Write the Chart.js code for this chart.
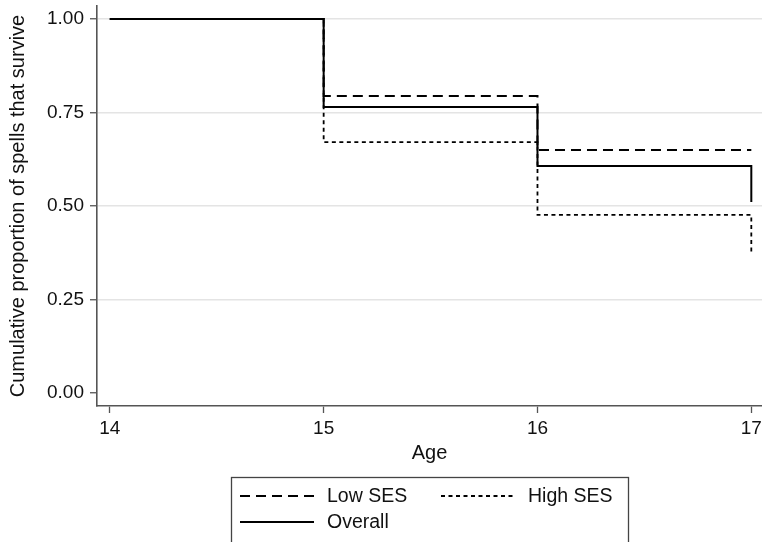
<!DOCTYPE html>
<html>
<head>
<meta charset="utf-8">
<script src="https://cdn.jsdelivr.net/npm/chart.js@4"></script>
<style>
  body { margin: 0; background: #fff; }
  #wrap { width: 762px; height: 542px; position: relative; }
</style>
</head>
<body>
<div id="wrap"><canvas id="myChart"></canvas></div>
<script>
'use strict';

// survival estimates at each age
var ages = [14, 15, 16, 17];
var lowSes = [1.00, 0.794, 0.650, 0.650];
var highSes = [1.00, 0.671, 0.476, 0.374];
var overall = [1.00, 0.765, 0.607, 0.511];

var xTicks = [14, 15, 16, 17];
var yTicks = [0, 0.25, 0.5, 0.75, 1];

var seriesNames = ['Low SES', 'High SES', 'Overall'];

(function () {
  var FONT = '"Liberation Sans", Arial, Helvetica, sans-serif';
  Chart.defaults.font.family = FONT;
  Chart.defaults.color = '#111';

  function toPoints(values) {
    var pts = [];
    for (var i = 0; i < ages.length; i++) {
      pts.push({ x: ages[i], y: values[i] });
    }
    return pts;
  }

  // legend is drawn by hand so it can sit in a framed box like the original
  var boxLegend = {
    id: 'boxLegend',
    afterDraw: function (chart) {
      var ctx = chart.ctx;
      ctx.save();
      ctx.strokeStyle = '#444';
      ctx.lineWidth = 1.3;
      ctx.strokeRect(231.5, 477.5, 397, 80);

      var items = [
        { name: seriesNames[0], dash: [10, 6], x: 240, y: 496 },
        { name: seriesNames[1], dash: [4, 3.5], x: 441, y: 496 },
        { name: seriesNames[2], dash: [], x: 240, y: 522 }
      ];
      ctx.font = '19.5px ' + FONT;
      ctx.textBaseline = 'middle';
      ctx.fillStyle = '#111';
      items.forEach(function (it) {
        ctx.beginPath();
        ctx.setLineDash(it.dash);
        ctx.lineWidth = 2;
        ctx.strokeStyle = '#000';
        ctx.moveTo(it.x, it.y);
        ctx.lineTo(it.x + 74, it.y);
        ctx.stroke();
        ctx.setLineDash([]);
        ctx.fillText(it.name, it.x + 87, it.y + 1);
      });
      ctx.restore();
    }
  };

  var ctx = document.getElementById('myChart').getContext('2d');

  new Chart(ctx, {
    type: 'line',
    data: {
      datasets: [
        {
          label: seriesNames[1],
          data: toPoints(highSes),
          borderColor: '#000',
          borderWidth: 1.8,
          borderDash: [4, 3.5],
          stepped: true,
          pointRadius: 0,
          fill: false
        },
        {
          label: seriesNames[0],
          data: toPoints(lowSes),
          borderColor: '#000',
          borderWidth: 2,
          borderDash: [10, 6],
          stepped: true,
          pointRadius: 0,
          fill: false
        },
        {
          label: seriesNames[2],
          data: toPoints(overall),
          borderColor: '#000',
          borderWidth: 2,
          stepped: true,
          pointRadius: 0,
          fill: false
        }
      ]
    },
    options: {
      responsive: true,
      maintainAspectRatio: false,
      animation: false,
      layout: { padding: { top: 6, left: 0, right: 0, bottom: 0 } },
      plugins: {
        legend: { display: false },
        tooltip: { enabled: false }
      },
      scales: {
        x: {
          type: 'linear',
          min: 13.94,
          max: 17.05,
          afterBuildTicks: function (scale) {
            scale.ticks = xTicks.map(function (v) { return { value: v }; });
          },
          afterFit: function (scale) {
            scale.height = 136;
            // the last label fits inside the canvas, so no extra side room
            scale.paddingLeft = 0;
            scale.paddingRight = 0;
          },
          grid: {
            drawOnChartArea: false,
            tickLength: 7,
            tickColor: '#555',
            tickWidth: 1.3
          },
          border: { color: '#555', width: 1.6 },
          ticks: {
            font: { size: 19 },
            color: '#111',
            padding: 4,
            maxRotation: 0,
            callback: function (v) { return v; }
          },
          title: {
            display: true,
            text: 'Age',
            font: { size: 20 },
            color: '#111',
            padding: { top: 0, bottom: 77 }
          }
        },
        y: {
          min: -0.035,
          max: 1.035,
          afterBuildTicks: function (scale) {
            scale.ticks = yTicks.map(function (v) { return { value: v }; });
          },
          afterFit: function (scale) {
            scale.width = 97;
            scale.paddingTop = 0;
            scale.paddingBottom = 0;
          },
          grid: {
            color: function (c) {
              return c.tick && c.tick.value === 0 ? 'rgba(0,0,0,0)' : '#e4e4e4';
            },
            lineWidth: 1.5,
            tickLength: 7,
            tickColor: '#555',
            tickWidth: 1.3
          },
          border: { color: '#555', width: 1.6 },
          ticks: {
            font: { size: 19 },
            color: '#111',
            padding: 6,
            callback: function (v) { return v.toFixed(2); }
          },
          title: {
            display: true,
            text: 'Cumulative proportion of spells that survive',
            font: { size: 20 },
            color: '#111',
            padding: { top: 6, bottom: 0 }
          }
        }
      }
    },
    plugins: [boxLegend]
  });
})();
</script>
</body>
</html>
